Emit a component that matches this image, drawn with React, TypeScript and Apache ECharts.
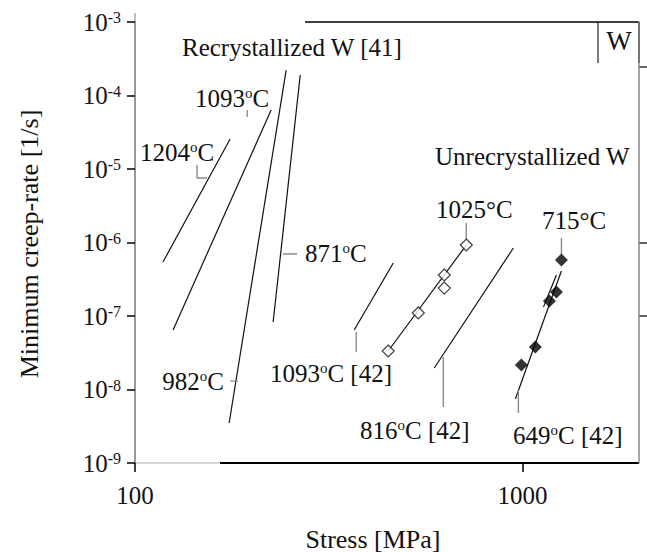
import React, { useEffect, useRef } from 'react';
import * as echarts from 'echarts';

const FONT = 'Liberation Serif';

// Stress [MPa], minimum creep-rate [1/s]
const recryst1204 = [[118.1, 5.43e-7], [176.0, 2.56e-5]];
const recryst1093 = [[125.4, 6.45e-8], [224.6, 6.35e-5]];
const recryst982 = [[175.0, 3.5e-9], [245.6, 2.22e-4]];
const recryst871 = [[227.3, 8.28e-8], [267.0, 1.9e-4]];
const unrec1093 = [[368.0, 6.45e-8], [464.2, 5.26e-7]];
const unrec816 = [[592.3, 1.96e-8], [947.8, 8.41e-7]];
const fit1025 = [[450.5, 3.34e-8], [716.6, 9.24e-7]];
const points1025 = [[450.5, 3.34e-8], [538.6, 1.1e-7], [628.6, 3.61e-7], [628.6, 2.4e-7], [716.6, 9.24e-7]];
const points649 = [[994.1, 2.15e-8], [1080.4, 3.78e-8], [1174.3, 1.6e-7], [1224.3, 2.12e-7], [1261.3, 5.78e-7]];
const fit649 = [[959.2, 7.43e-9], [1261.0, 4.09e-7]];
const fit715 = [[1133.4, 1.32e-7], [1224.0, 3.61e-7]];

// leader lines of the labels (data coordinates)
const leaders = [
  [[144.6, 1.13e-5], [144.6, 7.56e-6], [153.5, 7.56e-6]],
  [[194.8, 6.35e-5], [194.8, 5.09e-5]],
  [[176.0, 1.3e-8], [184.6, 1.3e-8]],
  [[241.2, 6.97e-7], [262.2, 6.97e-7]],
  [[372.4, 6.05e-8], [372.4, 3.24e-8]],
  [[716.6, 1.84e-6], [716.6, 1.08e-6]],
  [[625.1, 2.77e-8], [625.1, 5.78e-9]],
  [[1261.3, 1.15e-6], [1261.3, 6.55e-7]],
  [[976.5, 9.84e-9], [976.5, 4.79e-9]],
];

const xTickLabels = [100, 1000];
const xTitle = 'Stress [MPa]';
const yTitle = 'Minimum creep-rate [1/s]';

const sup = (num: string, tail = '') => `{n|${num}}{o|o}{n|C${tail}}`;

const annotations = [
  { text: '{n|Recrystallized W [41]}', x: 182, y: 47, align: 'left' },
  { text: sup('1093'), x: 195, y: 98, align: 'left' },
  { text: sup('1204'), x: 140, y: 152, align: 'left' },
  { text: sup('982'), x: 224, y: 381, align: 'right' },
  { text: sup('871'), x: 305, y: 253, align: 'left' },
  { text: '{n|Unrecrystallized W}', x: 435, y: 156, align: 'left' },
  { text: '{n|1025°C}', x: 436, y: 209, align: 'left' },
  { text: '{n|715°C}', x: 542, y: 220, align: 'left' },
  { text: sup('1093', ' [42]'), x: 392, y: 373, align: 'right' },
  { text: sup('816', ' [42]'), x: 360, y: 430, align: 'left' },
  { text: sup('649', ' [42]'), x: 513, y: 435, align: 'left' },
];

const rich = {
  n: { fontSize: 25, fontFamily: FONT, fill: '#111', color: '#111' },
  o: { fontSize: 15, fontFamily: FONT, fill: '#111', color: '#111', verticalAlign: 'top' },
};

const lineSeries = (data: number[][], color = '#111', width = 1.2) => ({
  type: 'line',
  data,
  symbol: 'none',
  showSymbol: false,
  silent: true,
  lineStyle: { color, width },
  z: 2,
});

export default function App() {
  const ref = useRef<HTMLDivElement>(null);
  useEffect(() => {
    document.body.style.margin = '0';
    const chart = echarts.init(ref.current!, null, { renderer: 'svg' });
    const isDecade = (v: number) => Math.abs(Math.log10(v) - Math.round(Math.log10(v))) < 1e-6;
    const seg = (x1: number, y1: number, x2: number, y2: number, stroke: string, lineWidth: number) => ({
      type: 'line',
      shape: { x1, y1, x2, y2 },
      style: { stroke, lineWidth },
      silent: true,
    });
    const option: any = {
      animation: false,
      backgroundColor: '#fff',
      grid: { left: 135, right: 8, top: 22, bottom: 89 },
      xAxis: {
        type: 'log',
        logBase: 10,
        min: 100,
        max: 2000,
        axisLine: { show: false },
        axisTick: { length: 9, lineStyle: { color: '#000', width: 1.5 } },
        splitLine: { show: false },
        axisLabel: {
          margin: 20,
          fontFamily: FONT,
          fontSize: 25,
          color: '#111',
          showMaxLabel: false,
          formatter: (v: number) =>
            xTickLabels.some((t) => Math.abs(t - v) / t < 1e-6) ? String(Math.round(v)) : '',
        },
      },
      yAxis: [
        {
          type: 'log',
          logBase: 10,
          min: 1e-9,
          max: 1e-3,
          axisLine: { lineStyle: { color: '#777', width: 1.5 } },
          axisTick: { length: 8, lineStyle: { color: '#000', width: 1.5 } },
          splitLine: { show: false },
          axisLabel: {
            margin: 14,
            formatter: (v: number) =>
              isDecade(v) ? `{b|10}{s|${Math.round(Math.log10(v))}}` : '',
            rich: {
              b: { fontSize: 25, fontFamily: FONT, color: '#111' },
              s: { fontSize: 16, fontFamily: FONT, color: '#111', verticalAlign: 'top' },
            },
          },
        },
        {
          type: 'log',
          logBase: 10,
          min: 1e-9,
          max: 1e-3,
          position: 'right',
          axisLine: { show: true, lineStyle: { color: '#888', width: 1.5 } },
          axisTick: { show: false },
          axisLabel: { show: false },
          splitLine: { show: false },
        },
      ],
      series: [
        lineSeries(recryst1204),
        lineSeries(recryst1093),
        lineSeries(recryst982),
        lineSeries(recryst871),
        lineSeries(unrec1093),
        lineSeries(unrec816),
        lineSeries(fit1025),
        lineSeries(fit649),
        lineSeries(fit715),
        ...leaders.map((d) => lineSeries(d, '#8a8a8a', 1.4)),
        {
          type: 'scatter',
          data: points1025,
          symbol: 'diamond',
          symbolSize: 12,
          silent: true,
          itemStyle: { color: '#fff', borderColor: '#111', borderWidth: 1.2 },
          z: 5,
        },
        {
          type: 'scatter',
          data: points649,
          symbol: 'diamond',
          symbolSize: 13,
          silent: true,
          itemStyle: { color: '#000' },
          z: 5,
        },
      ],
      graphic: [
        // frame pieces (scanned original: partly faded)
        seg(305, 22, 639, 22, '#000', 1.5),
        seg(639, 22, 639, 63, '#000', 1.5),
        seg(598, 22, 598, 63, '#222', 1.2),
        seg(135, 13, 135, 22, '#999', 1.2),
        seg(135, 463, 220, 463, '#c8c8c8', 1.5),
        seg(220, 463, 639, 463, '#000', 2),
        seg(639, 67, 647, 67, '#000', 1.2),
        seg(639, 243, 647, 243, '#000', 1.2),
        seg(639, 316, 647, 316, '#000', 1.2),
        {
          type: 'text',
          x: 619,
          y: 41,
          style: { text: 'W', fontSize: 27, fontFamily: FONT, fill: '#111', align: 'center', verticalAlign: 'middle' },
        },
        {
          type: 'text',
          x: 373,
          y: 539,
          style: { text: xTitle, fontSize: 26, fontFamily: FONT, fill: '#111', align: 'center', verticalAlign: 'middle' },
        },
        {
          type: 'text',
          x: 29,
          y: 244,
          rotation: Math.PI / 2,
          style: { text: yTitle, fontSize: 26, fontFamily: FONT, fill: '#111', align: 'center', verticalAlign: 'middle' },
        },
        ...annotations.map((a) => ({
          type: 'text',
          x: a.x,
          y: a.y,
          z: 10,
          style: { text: a.text, rich, align: a.align, verticalAlign: 'middle', fill: '#111' },
        })),
      ],
    };
    chart.setOption(option);
    return () => chart.dispose();
  }, []);
  return <div ref={ref} style={{ width: 647, height: 552 }} />;
}
